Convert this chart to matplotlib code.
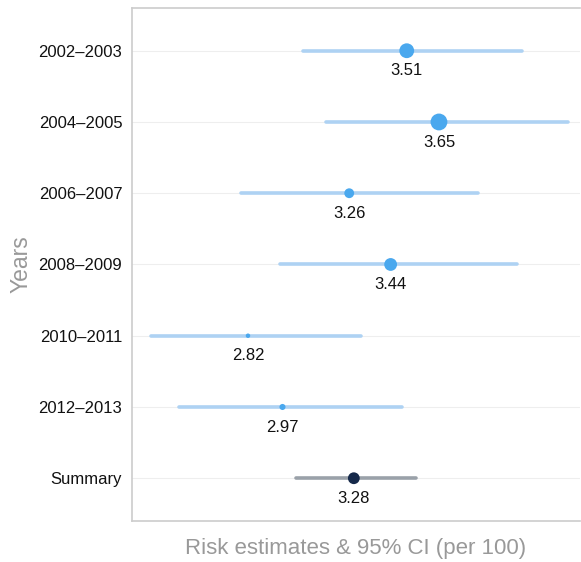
import matplotlib.pyplot as plt
import numpy as np

plt.rcParams['font.family'] = ['Liberation Sans', 'DejaVu Sans']

# forest plot data (risk per 100)
periods = ['2002–2003', '2004–2005', '2006–2007', '2008–2009',
           '2010–2011', '2012–2013', 'Summary']
estimates = [3.51, 3.65, 3.26, 3.44, 2.82, 2.97, 3.28]
ci_low = [3.06, 3.16, 2.79, 2.96, 2.40, 2.52, 3.03]
ci_high = [4.01, 4.21, 3.82, 3.99, 3.31, 3.49, 3.55]
# relative study weights, drive the marker size
weights = [0.49, 0.64, 0.20, 0.36, 0.02, 0.06, 0.30]

fig = plt.figure(figsize=(5.81, 5.62), dpi=100)
ax = fig.add_axes([0.2272, 0.073, 0.7711, 0.9128])

ypos = np.arange(len(periods))

for i in range(len(periods)):
    is_summary = periods[i] == 'Summary'
    line_col = '#9aa1a9' if is_summary else '#aed2f3'
    pt_col = '#16294a' if is_summary else '#4aa8ee'
    ax.plot([ci_low[i], ci_high[i]], [ypos[i], ypos[i]], color=line_col,
            lw=2.6, solid_capstyle='round', zorder=2)
    size = 6 + 220 * weights[i]
    ax.scatter(estimates[i], ypos[i], s=size, color=pt_col, zorder=3,
               edgecolors='none')
    ax.annotate('%.2f' % estimates[i], (estimates[i], ypos[i]),
                xytext=(0, -14.5), textcoords='offset points',
                ha='center', va='center', fontsize=12, color='#111111')

ax.set_xlim(2.316, 4.263)
ax.set_ylim(len(periods) - 0.4, -0.6)
ax.set_yticks(ypos)
ax.set_yticklabels(periods, fontsize=12, color='#111111')
ax.set_xticks([])
ax.tick_params(axis='y', length=0, pad=7)

for y in ypos:
    ax.axhline(y, color='#eeeeee', lw=0.8, zorder=1)

for side in ['left', 'top', 'bottom']:
    ax.spines[side].set_color('#cccccc')
    ax.spines[side].set_linewidth(1.2)
ax.spines['right'].set_visible(False)

ax.set_xlabel('Risk estimates & 95% CI (per 100)', fontsize=16,
              color='#999999', labelpad=12)
ax.set_ylabel('Years', fontsize=16.5, color='#999999', labelpad=4)

fig.savefig('out.png', dpi=100)
